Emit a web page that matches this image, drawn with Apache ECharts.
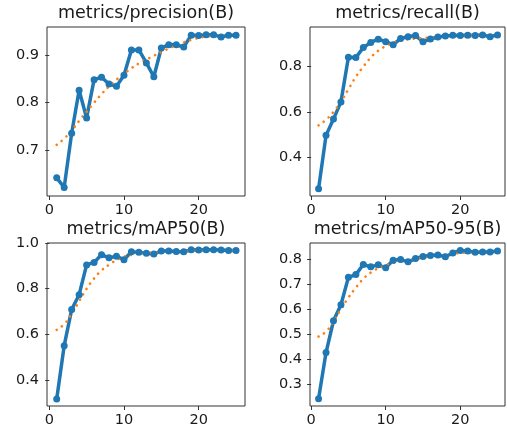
<!DOCTYPE html>
<html>
<head>
<meta charset="utf-8">
<script src="https://cdn.jsdelivr.net/npm/echarts@6/dist/echarts.min.js"></script>
<style>
  html, body { margin: 0; padding: 0; background: #fff; }
  #main { width: 507px; height: 428px; }
</style>
</head>
<body>
<div id="main"></div>
<script>
// epochs 1..25
var epochs = [1,2,3,4,5,6,7,8,9,10,11,12,13,14,15,16,17,18,19,20,21,22,23,24,25];

// metrics/precision(B)
var precision = [0.643,0.623,0.736,0.826,0.768,0.848,0.853,0.839,0.834,0.857,0.910,0.910,0.883,0.854,0.914,0.921,0.921,0.916,0.941,0.940,0.942,0.942,0.937,0.941,0.941];
var precisionSmooth = [0.712,0.725,0.742,0.762,0.781,0.800,0.818,0.834,0.848,0.860,0.872,0.882,0.890,0.898,0.906,0.913,0.920,0.926,0.931,0.935,0.938,0.939,0.940,0.940,0.940];

// metrics/recall(B)
var recall = [0.260,0.496,0.568,0.644,0.841,0.840,0.884,0.907,0.921,0.910,0.897,0.924,0.932,0.937,0.910,0.922,0.931,0.935,0.938,0.937,0.938,0.937,0.940,0.932,0.940];
var recallSmooth = [0.540,0.565,0.600,0.645,0.700,0.755,0.800,0.840,0.870,0.890,0.905,0.914,0.920,0.924,0.926,0.928,0.930,0.932,0.934,0.935,0.936,0.937,0.937,0.937,0.937];

// metrics/mAP50(B)
var map50 = [0.318,0.551,0.709,0.774,0.904,0.915,0.949,0.935,0.942,0.927,0.962,0.959,0.955,0.952,0.965,0.965,0.963,0.962,0.970,0.969,0.970,0.970,0.969,0.967,0.967];
var map50Smooth = [0.620,0.645,0.690,0.745,0.800,0.845,0.880,0.905,0.925,0.940,0.948,0.953,0.956,0.958,0.960,0.962,0.964,0.965,0.966,0.967,0.968,0.968,0.968,0.968,0.968];

// metrics/mAP50-95(B)
var map5095 = [0.242,0.426,0.553,0.617,0.726,0.737,0.777,0.768,0.776,0.764,0.794,0.797,0.788,0.801,0.809,0.813,0.815,0.808,0.823,0.833,0.831,0.826,0.827,0.827,0.831];
var map5095Smooth = [0.490,0.510,0.550,0.600,0.645,0.685,0.720,0.745,0.762,0.774,0.783,0.790,0.795,0.800,0.805,0.809,0.813,0.816,0.820,0.823,0.825,0.827,0.828,0.828,0.829];

// tick labels
var xTicks = [0, 10, 20];
var yTicksPrecision = [0.7, 0.8, 0.9];
var yTicksRecall = [0.4, 0.6, 0.8];
var yTicksMap50 = [0.4, 0.6, 0.8, 1.0];
var yTicksMap5095 = [0.3, 0.4, 0.5, 0.6, 0.7, 0.8];

var titles = ['metrics/precision(B)', 'metrics/recall(B)', 'metrics/mAP50(B)', 'metrics/mAP50-95(B)'];

function pairs(ys) {
  return epochs.map(function (e, i) { return [e, ys[i]]; });
}

var FONT = 'DejaVu Sans';
var TXT = '#1a1a1a';

// plot boxes (pixels) and axis ranges
var panels = [
  { box: [47, 27, 198, 169],  x: [-0.3, 26.2], y: [0.605, 0.958], ticks: yTicksPrecision, raw: precision, smooth: precisionSmooth },
  { box: [310, 27, 195, 169], x: [-0.15, 26.0], y: [0.228, 0.975], ticks: yTicksRecall, raw: recall, smooth: recallSmooth },
  { box: [47, 243, 198, 169], x: [-0.3, 26.2], y: [0.287, 1.0], ticks: yTicksMap50, raw: map50, smooth: map50Smooth },
  { box: [310, 243, 195, 169], x: [-0.15, 26.0], y: [0.213, 0.863], ticks: yTicksMap5095, raw: map5095, smooth: map5095Smooth }
];

var grid = [], xAxis = [], yAxis = [], series = [], title = [];

panels.forEach(function (p, i) {
  grid.push({
    left: p.box[0], top: p.box[1], width: p.box[2], height: p.box[3],
    show: true, borderColor: '#333', borderWidth: 1, backgroundColor: '#fff'
  });
  title.push({
    text: titles[i],
    left: p.box[0] + p.box[2] / 2,
    top: p.box[1] - 23,
    textAlign: 'center',
    padding: 0,
    textStyle: { fontFamily: FONT, fontSize: 17.5, fontWeight: 'normal', color: TXT }
  });
  xAxis.push({
    type: 'value', gridIndex: i, min: p.x[0], max: p.x[1],
    axisLine: { show: false },
    splitLine: { show: false },
    axisTick: { show: true, length: 4, customValues: xTicks, lineStyle: { color: '#333' } },
    axisLabel: {
      customValues: xTicks, margin: 7,
      fontFamily: FONT, fontSize: 14.5, color: TXT,
      formatter: function (v) { return String(Math.round(v)); }
    }
  });
  yAxis.push({
    type: 'value', gridIndex: i, min: p.y[0], max: p.y[1],
    axisLine: { show: false },
    splitLine: { show: false },
    axisTick: { show: true, length: 4, customValues: p.ticks, lineStyle: { color: '#333' } },
    axisLabel: {
      customValues: p.ticks, margin: 8,
      fontFamily: FONT, fontSize: 14.5, color: TXT,
      formatter: function (v) { return v.toFixed(1); }
    }
  });
  series.push({
    type: 'line', xAxisIndex: i, yAxisIndex: i,
    data: pairs(p.raw),
    symbol: 'circle', symbolSize: 7,
    itemStyle: { color: '#1f77b4' },
    lineStyle: { color: '#1f77b4', width: 3.5 },
    animation: false, silent: true
  });
  series.push({
    type: 'line', xAxisIndex: i, yAxisIndex: i,
    data: pairs(p.smooth),
    symbol: 'none', smooth: true,
    lineStyle: { color: '#ff7f0e', width: 2.6, type: [0.1, 6.3], cap: 'round' },
    animation: false, silent: true
  });
});

var chart = echarts.init(document.getElementById('main'), null, { renderer: 'canvas' });
chart.setOption({
  backgroundColor: '#fff',
  animation: false,
  title: title,
  grid: grid,
  xAxis: xAxis,
  yAxis: yAxis,
  series: series
});
</script>
</body>
</html>
